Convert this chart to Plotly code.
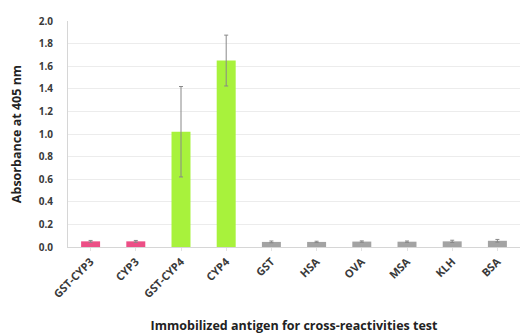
import plotly.graph_objects as go

antigens = ["GST-CYP3", "CYP3", "GST-CYP4", "CYP4", "GST", "HSA", "OVA", "MSA", "KLH", "BSA"]
absorbance = [0.05, 0.05, 1.02, 1.65, 0.045, 0.045, 0.048, 0.047, 0.05, 0.055]
error = [0.008, 0.008, 0.40, 0.225, 0.008, 0.006, 0.006, 0.006, 0.01, 0.012]
bar_colors = ["#ec4f86", "#ec4f86", "#a8f23c", "#a8f23c",
              "#a3a3a3", "#a3a3a3", "#a3a3a3", "#a3a3a3", "#a3a3a3", "#a3a3a3"]
y_ticks = [0.0, 0.2, 0.4, 0.6, 0.8, 1.0, 1.2, 1.4, 1.6, 1.8, 2.0]

x_tick_font = dict(size=11, color="#3a3a3a")
y_tick_font = dict(size=10, color="#3a3a3a")
title_font = dict(size=12.5, color="#222222")

fig = go.Figure(go.Bar(
    x=antigens,
    y=absorbance,
    marker=dict(color=bar_colors, line=dict(width=0)),
    width=0.42,
    error_y=dict(type="data", array=error, visible=True,
                 color="#888888", thickness=1, width=2),
))

fig.update_layout(
    width=525, height=334,
    margin=dict(l=68, r=5, t=21, b=87),
    paper_bgcolor="white", plot_bgcolor="white",
    showlegend=False,
    xaxis=dict(
        tickangle=-45,
        tickvals=antigens,
        ticktext=[f"<b>{a}</b>" for a in antigens],
        tickfont=x_tick_font,
        showline=True, linecolor="#d6d6d6", linewidth=1,
        ticks="outside", ticklen=3, tickcolor="#e2e2e2",
        showgrid=False,
        automargin=False,
        title=dict(text="<b>Immobilized antigen for cross-reactivities test</b>",
                   font=title_font, standoff=22),
    ),
    yaxis=dict(
        range=[0, 2.0],
        tickvals=y_ticks,
        ticktext=[f"<b>{v:.1f}</b>" for v in y_ticks],
        tickfont=y_tick_font,
        ticklabelstandoff=12,
        showgrid=True, gridcolor="#ececec", gridwidth=1,
        showline=True, linecolor="#d6d6d6", linewidth=1,
        zeroline=False,
        ticks="",
        automargin=False,
        title=dict(text="<b>Absorbance at 405 nm</b>", font=title_font, standoff=14),
    ),
)

fig.write_html("out.html")
